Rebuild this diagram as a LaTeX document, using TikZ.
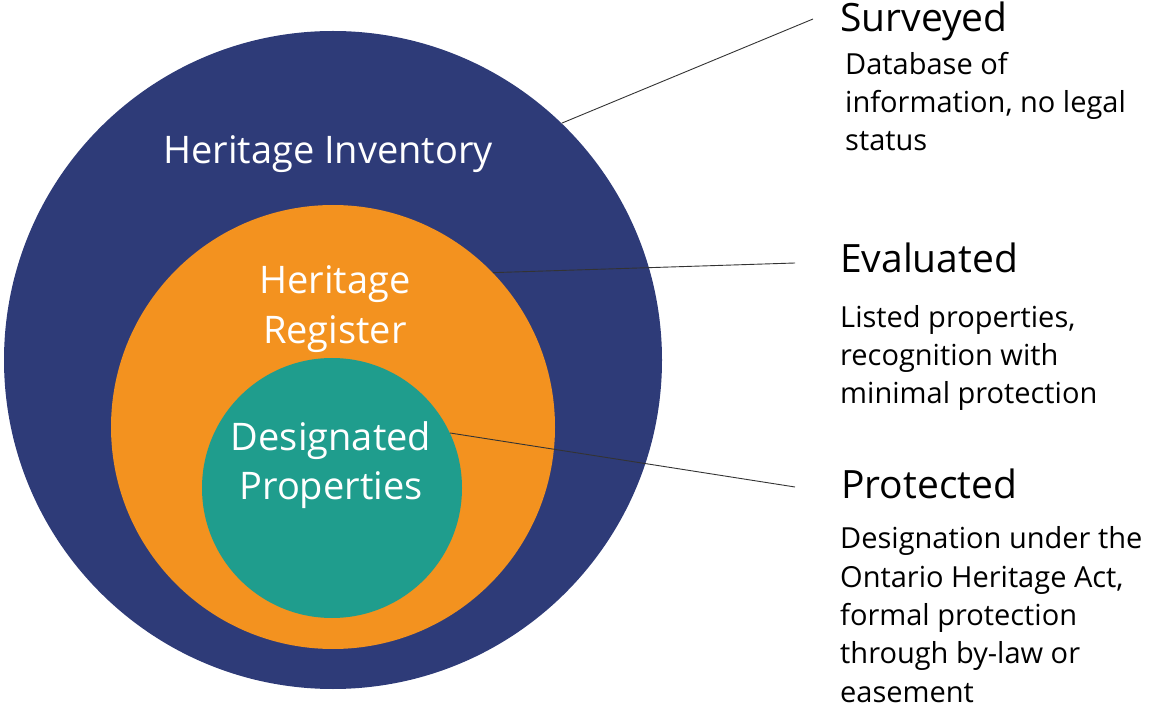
\documentclass[tikz,border=0pt]{standalone}
\usepackage{fontspec}
\setmainfont{Open Sans}
\usetikzlibrary{positioning}

\definecolor{invblue}{HTML}{2E3B78}
\definecolor{regorange}{HTML}{F3921F}
\definecolor{desgreen}{HTML}{1F9D8D}

\begin{document}
\begin{tikzpicture}[x=1pt, y=-1pt,
    ring/.style={circle, inner sep=0pt},
    inlabel/.style={text=white, align=center, inner sep=0pt, anchor=base,
        font=\fontsize{38}{50}\selectfont},
    head/.style={anchor=base west, inner sep=0pt, font=\fontsize{39}{44}\selectfont},
    desc/.style={anchor=base west, align=left, inner sep=0pt,
        font=\fontsize{29}{38.3}\selectfont},
    link/.style={draw=black!80, line width=0.9pt}]
    \useasboundingbox (0,0) rectangle (1149,708);

    % nested circles
    \node (inv) [ring, fill=invblue, minimum size=658pt] at (333,360) {};
    \node (reg) [ring, fill=regorange, minimum size=444pt] at (333,427) {};
    \node (des) [ring, fill=desgreen, minimum size=260pt] at (332,488) {};

    % labels (base = last line)
    \node (invlabel) [inlabel] at (328,164) {Heritage Inventory};
    \node (reglabel) [inlabel] at (335,344) {Heritage\\Register};
    \node (deslabel) [inlabel] at (331,500) {Designated\\Properties};

    % right-hand legend
    \node (surv) [head] at (840,32) {Surveyed};
    \node (survtext) [desc] at (845,151) {Database of\\information, no legal\\status};

    \node (eval) [head] at (840,273) {Evaluated};
    \node (evaltext) [desc] at (840,404) {Listed properties,\\recognition with\\minimal protection};

    \node (prot) [head] at (841,498) {Protected};
    \node (prottext) [desc] at (840,702) {Designation under the\\Ontario Heritage Act,\\formal protection\\through by-law or\\easement};

    \coordinate (survend) at (813,19);
    \coordinate (evalend) at (795,263);
    \coordinate (protend) at (795,487);

    \draw[link] (inv.46) -- (survend);
    \draw[link] (reg.44) -- (evalend);
    \draw[link] (des.25) -- (protend);
\end{tikzpicture}
\end{document}
